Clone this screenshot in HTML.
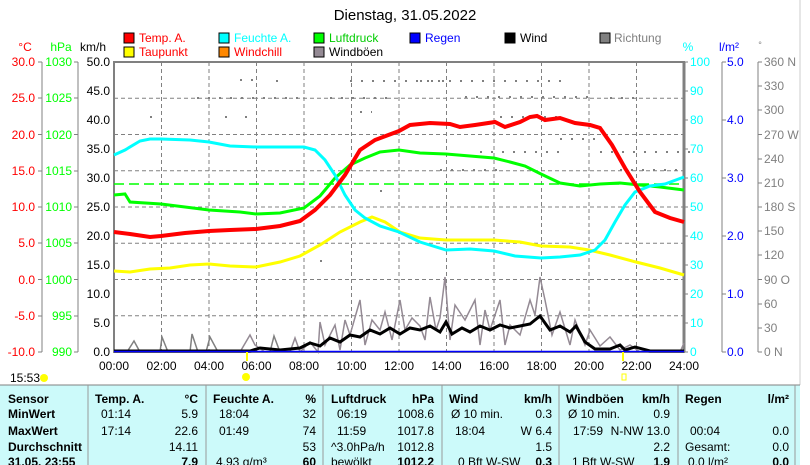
<!DOCTYPE html>
<html><head><meta charset="utf-8"><style>
body{margin:0;background:#fff;width:810px;height:465px;overflow:hidden;font-family:"Liberation Sans",sans-serif;}
svg{position:absolute;left:0;top:0}
.t{font-size:12px;font-family:"Liberation Sans",sans-serif}
.b{font-weight:bold}
</style></head><body>
<svg width="810" height="465" xmlns="http://www.w3.org/2000/svg">
<rect width="810" height="465" fill="#fff"/>
<line x1="800" y1="0" x2="800" y2="385" stroke="#ccc"/>
<text x="405" y="20" text-anchor="middle" font-size="15" font-family="Liberation Sans">Dienstag, 31.05.2022</text>
<g class="t">
<rect x="124" y="33" width="10" height="10" fill="#f00" stroke="#000"/><text x="139" y="42" fill="#f00">Temp. A.</text>
<rect x="219" y="33" width="10" height="10" fill="#0ff" stroke="#000"/><text x="234" y="42" fill="#0ff">Feuchte A.</text>
<rect x="314" y="33" width="10" height="10" fill="#0f0" stroke="#000"/><text x="329" y="42" fill="#0c0">Luftdruck</text>
<rect x="410" y="33" width="10" height="10" fill="#00f" stroke="#000"/><text x="425" y="42" fill="#00f">Regen</text>
<rect x="505" y="33" width="10" height="10" fill="#000" stroke="#000"/><text x="520" y="42" fill="#000">Wind</text>
<rect x="600" y="33" width="10" height="10" fill="#808080" stroke="#000"/><text x="614" y="42" fill="#808080">Richtung</text>
<rect x="124" y="47" width="10" height="10" fill="#ff0" stroke="#000"/><text x="139" y="56" fill="#f00">Taupunkt</text>
<rect x="219" y="47" width="10" height="10" fill="#f80" stroke="#000"/><text x="234" y="56" fill="#f00">Windchill</text>
<rect x="314" y="47" width="10" height="10" fill="#948a94" stroke="#000"/><text x="329" y="56" fill="#000">Windböen</text>
</g>
<g class="t">
<text x="25" y="51" text-anchor="middle" fill="#f00">°C</text>
<text x="61" y="51" text-anchor="middle" fill="#0f0">hPa</text>
<text x="93" y="51" text-anchor="middle">km/h</text>
<text x="688" y="51" text-anchor="middle" fill="#0ff">%</text>
<text x="729" y="51" text-anchor="middle" fill="#00f">l/m²</text>
<text x="760" y="48" text-anchor="middle" fill="#808080" font-size="9">°</text>
</g>
<line x1="42" y1="62" x2="42" y2="352" stroke="#808080"/>
<line x1="78" y1="62" x2="78" y2="352" stroke="#808080"/>
<line x1="722" y1="62" x2="722" y2="352" stroke="#808080"/>
<line x1="758" y1="62" x2="758" y2="352" stroke="#808080"/>
<g class="t" text-anchor="end">
<g fill="#f00">
<text x="35" y="66">30.0</text><text x="35" y="102">25.0</text><text x="35" y="139">20.0</text><text x="35" y="175">15.0</text><text x="35" y="211">10.0</text><text x="35" y="247">5.0</text><text x="35" y="284">0.0</text><text x="35" y="320">-5.0</text><text x="35" y="356">-10.0</text>
</g>
<g fill="#0f0">
<text x="72" y="66">1030</text><text x="72" y="102">1025</text><text x="72" y="139">1020</text><text x="72" y="175">1015</text><text x="72" y="211">1010</text><text x="72" y="247">1005</text><text x="72" y="284">1000</text><text x="72" y="320">995</text><text x="72" y="356">990</text>
</g>
<g fill="#000">
<text x="110" y="66">50.0</text><text x="110" y="95">45.0</text><text x="110" y="124">40.0</text><text x="110" y="153">35.0</text><text x="110" y="182">30.0</text><text x="110" y="211">25.0</text><text x="110" y="240">20.0</text><text x="110" y="269">15.0</text><text x="110" y="298">10.0</text><text x="110" y="327">5.0</text><text x="110" y="356">0.0</text>
</g>
</g>
<g stroke="#808080">
<path d="M38 62h4M38 98h4M38 134.5h4M38 171h4M38 207h4M38 243h4M38 279.5h4M38 316h4M38 352h4"/>
<path d="M74 62h4M74 98h4M74 134.5h4M74 171h4M74 207h4M74 243h4M74 279.5h4M74 316h4M74 352h4"/>
<path d="M684 62h4M684 91h4M684 120h4M684 149h4M684 178h4M684 207h4M684 236h4M684 265h4M684 294h4M684 323h4M684 352h4"/>
<path d="M722 62h4M722 120h4M722 178h4M722 236h4M722 294h4M722 352h4"/>
<path d="M758 62h4M758 86h4M758 110h4M758 134.5h4M758 159h4M758 183h4M758 207h4M758 231h4M758 255h4M758 279.5h4M758 304h4M758 328h4M758 352h4"/>
</g>
<g class="t">
<g fill="#0ff">
<text x="690" y="66">100</text><text x="690" y="95">90</text><text x="690" y="124">80</text><text x="690" y="153">70</text><text x="690" y="182">60</text><text x="690" y="211">50</text><text x="690" y="240">40</text><text x="690" y="269">30</text><text x="690" y="298">20</text><text x="690" y="327">10</text><text x="690" y="356">0</text>
</g>
<g fill="#00f">
<text x="727" y="66">5.0</text><text x="727" y="124">4.0</text><text x="727" y="182">3.0</text><text x="727" y="240">2.0</text><text x="727" y="298">1.0</text><text x="727" y="356">0.0</text>
</g>
<g fill="#808080">
<text x="764" y="66">360 N</text><text x="764" y="90">330</text><text x="764" y="114">300</text><text x="764" y="139">270 W</text><text x="764" y="163">240</text><text x="764" y="187">210</text><text x="764" y="211">180 S</text><text x="764" y="235">150</text><text x="764" y="259">120</text><text x="764" y="284">90 O</text><text x="764" y="308">60</text><text x="764" y="332">30</text><text x="764" y="356">0 N</text>
</g>
</g>
<g stroke="#808080" stroke-dasharray="4,3">
<path d="M114 98.25H684M114 134.5H684M114 170.75H684M114 207H684M114 243.25H684M114 279.5H684M114 315.75H684"/>
<path d="M161.5 62V352M209 62V352M256.5 62V352M304 62V352M351.5 62V352M399 62V352M446.5 62V352M494 62V352M541.5 62V352M589 62V352M636.5 62V352"/>
</g>
<rect x="114" y="62" width="570" height="290" fill="none" stroke="#808080" stroke-width="2"/>
<line x1="684" y1="62" x2="684" y2="352" stroke="#808080" stroke-width="3"/>
<!-- direction dots -->
<g stroke="#808080" stroke-width="2" stroke-dasharray="2,9" fill="none">
<path d="M350 81H570M420 81H450"/>
<path d="M240 80H262"/>
<path d="M197 98H300M330 98H390M465 97H590M610 98H640"/>
<path d="M500 117H560M360 112H372"/>
<path d="M480 152H560M600 152H690M440 170H500M560 139H600M620 170H680"/>
</g>
<g fill="#808080">
<rect x="150" y="116" width="2" height="2"/><rect x="225" y="116" width="2" height="2"/><rect x="245" y="116" width="2" height="2"/><rect x="276" y="80" width="2" height="2"/>
<rect x="320" y="260" width="2" height="2"/><rect x="380" y="190" width="2" height="2"/>
</g>
<line x1="114" y1="184" x2="684" y2="184" stroke="#0f0" stroke-dasharray="10,5" stroke-width="1.5"/>
<polyline fill="none" stroke="#948a94" stroke-width="1.5" points="114,352 240,352 250,335 255,345 265,352 290,352 295,338 300,352 310,342 318,352 320,322 325,345 335,325 340,350 345,320 350,335 360,300 365,345 372,320 380,330 385,312 392,340 400,300 405,330 412,318 420,326 425,340 430,297 436,330 440,318 445,277 450,340 455,305 465,320 475,300 480,345 485,310 490,330 500,300 505,345 510,325 520,335 530,300 535,315 540,277 545,300 552,335 560,312 570,345 575,320 585,345 590,330 600,346 610,337 620,350 630,345 640,352 680,352 684,343"/>
<polyline fill="none" stroke="#808080" stroke-width="1.5" points="127,352 134,341 140,352 160,352 162,337 168,352 190,352 192,334 198,352 206,352 210,337 218,352 270,352 274,336 280,352"/>
<polyline fill="none" stroke="#000" stroke-width="3" points="114,351 250,351 260,348 280,350 300,348 310,343 320,346 330,338 340,342 350,335 360,337 370,330 380,334 390,328 400,334 410,328 420,330 430,326 440,332 446,322 452,334 462,328 470,332 480,326 490,330 500,325 510,328 520,326 530,324 540,316 550,330 560,326 570,332 576,326 585,342 595,349 610,349 620,345 625,350 635,347 650,351 684,351"/>
<line x1="114" y1="351.5" x2="684" y2="351.5" stroke="#00f" stroke-width="1.5"/>
<polyline fill="none" stroke="#ff0" stroke-width="3" points="114,271 130,272 150,269 170,268 190,265 209,264 230,266 256,267 280,262 300,256 320,245 340,232 360,222 372,217 385,222 400,232 420,238 446,240 470,240 494,240 520,242 541,246 570,247 589,250 610,255 636,262 660,268 684,275"/>
<polyline fill="none" stroke="#0f0" stroke-width="3" points="114,195 125,194 130,202 161,204 185,207 209,210 240,212 256,214 280,213 304,208 320,196 335,178 350,165 365,158 380,152 399,150 420,153 446,154 470,156 494,158 510,162 525,166 541,174 560,183 580,186 600,184 620,183 640,185 660,187 684,190"/>
<polyline fill="none" stroke="#0ff" stroke-width="3" points="114,155 125,150 140,141 150,139 161,139 190,140 209,142 230,146 256,147 280,147 304,147 315,150 325,160 335,175 345,195 355,210 365,218 380,226 399,232 420,242 446,250 470,249 494,251 515,256 541,258 560,257 580,255 595,250 605,240 615,222 625,205 635,192 650,186 665,184 684,177"/>
<polyline fill="none" stroke="#f00" stroke-width="4" points="114,232 130,234 150,237 161,236 185,233 209,231 230,230 256,229 280,226 300,221 315,210 330,195 345,175 360,150 375,140 399,131 410,125 430,123 450,124 460,127 475,125 495,122 505,127 520,122 530,117 537,116 545,120 560,118 575,123 590,125 600,128 612,145 625,168 640,192 655,212 670,218 684,222"/>
<g class="t" text-anchor="middle">
<text x="114" y="370">00:00</text><text x="161.5" y="370">02:00</text><text x="209" y="370">04:00</text><text x="256.5" y="370">06:00</text><text x="304" y="370">08:00</text><text x="351.5" y="370">10:00</text><text x="399" y="370">12:00</text><text x="446.5" y="370">14:00</text><text x="494" y="370">16:00</text><text x="541.5" y="370">18:00</text><text x="589" y="370">20:00</text><text x="636.5" y="370">22:00</text><text x="684" y="370">24:00</text>
</g>
<line x1="247" y1="352" x2="247" y2="361" stroke="#ff0" stroke-width="2"/>
<line x1="623" y1="352" x2="623" y2="361" stroke="#ff0" stroke-width="2"/>
<text x="10" y="382" class="t">15:53</text>
<circle cx="44" cy="378" r="4" fill="#ff0"/>
<circle cx="246" cy="377" r="4" fill="#ff0"/>
<rect x="622" y="374" width="4" height="6" fill="none" stroke="#ff0"/>
<rect x="0" y="385" width="800" height="80" fill="#ccfafa"/>
<line x1="0" y1="385" x2="800" y2="385" stroke="#808080"/>
<g stroke="#999"><path d="M88 385V465M206 385V465M323 385V465M442 385V465M559 385V465M678 385V465M795 385V465"/></g>
<g class="t" font-size="12">
<g class="b"><text x="8" y="403">Sensor</text><text x="8" y="418">MinWert</text><text x="8" y="435">MaxWert</text><text x="8" y="451">Durchschnitt</text><text x="8" y="466">31.05. 23:55</text>
<text x="95" y="403">Temp. A.</text><text x="213" y="403">Feuchte A.</text><text x="331" y="403">Luftdruck</text><text x="449" y="403">Wind</text><text x="566" y="403">Windböen</text><text x="685" y="403">Regen</text>
<g text-anchor="end"><text x="198" y="403">°C</text><text x="316" y="403">%</text><text x="434" y="403">hPa</text><text x="552" y="403">km/h</text><text x="670" y="403">km/h</text><text x="789" y="403">l/m²</text>
<text x="198" y="466">7.9</text><text x="316" y="466">60</text><text x="434" y="466">1012.2</text><text x="552" y="466">0.3</text><text x="670" y="466">1.9</text><text x="789" y="466">0.0</text></g></g>
<text x="101" y="418">01:14</text><text x="101" y="435">17:14</text>
<text x="219" y="418">18:04</text><text x="219" y="435">01:49</text><text x="216" y="466">4.93 g/m³</text>
<text x="337" y="418">06:19</text><text x="337" y="435">11:59</text><text x="331" y="451">^3.0hPa/h</text><text x="331" y="466">bewölkt</text>
<text x="451" y="418">Ø 10 min.</text><text x="455" y="435">18:04</text><text x="458" y="466">0 Bft W-SW</text>
<text x="568" y="418">Ø 10 min.</text><text x="573" y="435">17:59</text><text x="572" y="466">1 Bft W-SW</text>
<text x="690" y="435">00:04</text><text x="685" y="451">Gesamt:</text><text x="688" y="466">0.0 l/m²</text>
<g text-anchor="end">
<text x="198" y="418">5.9</text><text x="198" y="435">22.6</text><text x="198" y="451">14.11</text>
<text x="316" y="418">32</text><text x="316" y="435">74</text><text x="316" y="451">53</text>
<text x="434" y="418">1008.6</text><text x="434" y="435">1017.8</text><text x="434" y="451">1012.8</text>
<text x="552" y="418">0.3</text><text x="552" y="435">W 6.4</text><text x="552" y="451">1.5</text>
<text x="670" y="418">0.9</text><text x="670" y="435">N-NW 13.0</text><text x="670" y="451">2.2</text>
<text x="789" y="435">0.0</text><text x="789" y="451">0.0</text>
</g>
</g>
</svg>
</body></html>
